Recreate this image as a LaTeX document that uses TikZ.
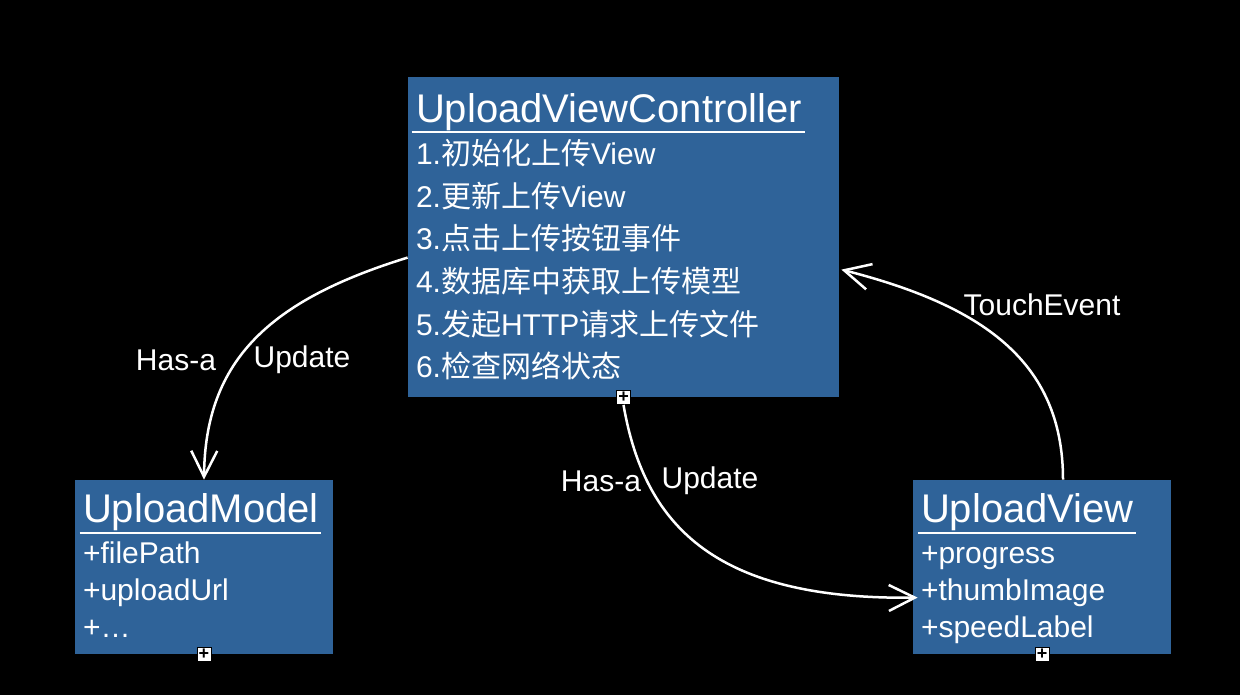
\documentclass[tikz,border=0pt]{standalone}
\usepackage{fontspec}
\setmainfont{Liberation Sans}
\newfontfamily\cjk{Noto Sans CJK SC}
\usetikzlibrary{positioning,calc,arrows.meta}
\definecolor{boxblue}{RGB}{47,99,153}

\begin{document}
\begin{tikzpicture}[
      x=0.5pt, y=-0.5pt,
      umlbox/.style={
        fill=boxblue,
        draw=none,
        inner sep=0pt
      },
      umltitle/.style={
        text=white,
        inner sep=0pt,
        anchor=base west,
        font=\fontsize{20}{24}\selectfont
      },
      umlline/.style={
        text=white,
        inner sep=0pt,
        anchor=base west,
        font=\fontsize{15}{18}\selectfont
      },
      expander/.style={
        draw=black,
        fill=white,
        line width=0.5pt,
        minimum size=7pt,
        inner sep=0pt,
        font=\fontsize{9}{9}\selectfont\bfseries
      },
      link/.style={
        draw=white,
        line width=1.25pt,
        -{Straight Barb[length=13pt,width=13pt,line width=1.25pt]}
      },
      linklabel/.style={
        text=white,
        font=\fontsize{15}{18}\selectfont
      }
    ]
    \fill[black] (0,0) rectangle (1240,695);

    %% Boxes
    \node[umlbox, minimum width=215.5pt, minimum height=160pt] (ctrl) at (623.5,237) {};
    \node[umlbox, minimum width=129pt, minimum height=87pt] (model) at (204,567) {};
    \node[umlbox, minimum width=129pt, minimum height=87pt] (view) at (1042,567) {};

    %% Controller
    \node[umltitle] (ctrl-title) at ($(ctrl.north west)+(8,46)$) {UploadViewController};
    \draw[white, line width=1pt] ($(ctrl-title.base west)+(-4,9)$) -- ($(ctrl-title.base east)+(2,9)$);
    \foreach \txt [count=\i] in {%
        {1.{\cjk 初始化上传}View},
        {2.{\cjk 更新上传}View},
        {3.{\cjk 点击上传按钮事件}},
        {4.{\cjk 数据库中获取上传模型}},
        {5.{\cjk 发起}HTTP{\cjk 请求上传文件}},
        {6.{\cjk 检查网络状态}}}
      \node[umlline] (ctrl-\i) at ($(ctrl.north west)+(8,{88+42.6*(\i-1)})$) {\txt};
    \node[expander] (ctrl-plus) at (ctrl.south) {+};

    %% Model
    \node[umltitle] (model-title) at ($(model.north west)+(8,43)$) {UploadModel};
    \draw[white, line width=1pt] ($(model-title.base west)+(-3,10)$) -- ($(model-title.base east)+(2,10)$);
    \foreach \txt [count=\i] in {+filePath, +uploadUrl, +…}
      \node[umlline] (model-\i) at ($(model.north west)+(8,{84+36.8*(\i-1)})$) {\txt};
    \node[expander] (model-plus) at (model.south) {+};

    %% View
    \node[umltitle] (view-title) at ($(view.north west)+(8,43)$) {UploadView};
    \draw[white, line width=1pt] ($(view-title.base west)+(-3,10)$) -- ($(view-title.base east)+(2,10)$);
    \foreach \txt [count=\i] in {+progress, +thumbImage, +speedLabel}
      \node[umlline] (view-\i) at ($(view.north west)+(8,{84+36.8*(\i-1)})$) {\txt};
    \node[expander] (view-plus) at (view.south) {+};

    %% Links
    \draw[link] ($(ctrl.north west)+(0,181)$) .. controls (270,300) and (205,360) .. (model.north);
    \draw[link] (ctrl-plus.south) .. controls (645,530) and (720,600) .. ($(view.north west)+(5,118)$);
    \draw[link] ($(view.north)+(21,0)$) .. controls (1063,360) and (980,305) .. ($(ctrl.north east)+(2,193)$);

    %% Labels
    \node[linklabel] (model-has) at (176,360) {Has-a};
    \node[linklabel] (model-upd) at (302,360) {Update};
    \node[linklabel] (view-has) at (601,481) {Has-a};
    \node[linklabel] (view-upd) at (710,481) {Update};
    \node[linklabel] (view-touch) at (1042,305) {TouchEvent};
  \end{tikzpicture}
\end{document}
